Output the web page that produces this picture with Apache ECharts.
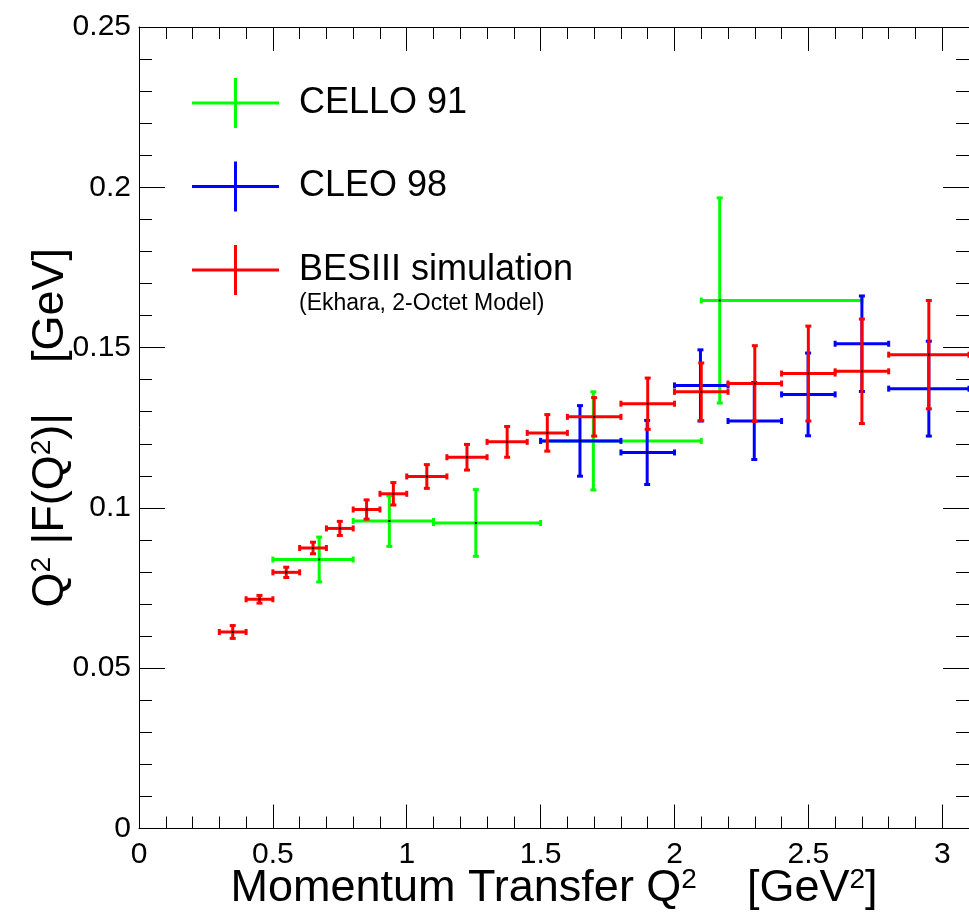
<!DOCTYPE html>
<html>
<head>
<meta charset="utf-8">
<script src="https://cdn.jsdelivr.net/npm/echarts@6/dist/echarts.min.js"></script>
<style>
  html, body { margin: 0; padding: 0; background: #fff; }
  #chart { width: 969px; height: 917px; }
</style>
</head>
<body>
<div id="chart"></div>
<script>
// BESIII simulation (Ekhara, 2-Octet Model)
var besX = [0.35, 0.45, 0.55, 0.65, 0.75, 0.85, 0.95, 1.075, 1.225, 1.375, 1.525, 1.7, 1.9, 2.1, 2.3, 2.5, 2.7, 2.95];
var besXerr = [0.05, 0.05, 0.05, 0.05, 0.05, 0.05, 0.05, 0.075, 0.075, 0.075, 0.075, 0.1, 0.1, 0.1, 0.1, 0.1, 0.1, 0.15];
var besY = [0.0613, 0.0715, 0.0799, 0.0875, 0.0936, 0.0995, 0.1044, 0.1098, 0.1158, 0.1206, 0.1234, 0.1284, 0.1325, 0.1362, 0.1388, 0.1419, 0.1426, 0.1478];
var besYerr = [0.002, 0.0012, 0.0016, 0.0018, 0.0022, 0.003, 0.0035, 0.0037, 0.004, 0.0048, 0.0057, 0.006, 0.008, 0.009, 0.0118, 0.0148, 0.0163, 0.0169];

// CLEO 98
var cleoX = [1.647, 1.898, 2.097, 2.298, 2.499, 2.7, 2.95];
var cleoXlo = [1.5, 1.8, 2.0, 2.2, 2.4, 2.6, 2.8];
var cleoXhi = [1.8, 2.0, 2.2, 2.4, 2.6, 2.8, 3.1];
var cleoY = [0.1209, 0.1173, 0.1382, 0.1271, 0.1354, 0.1512, 0.1372];
var cleoYerr = [0.011, 0.010, 0.0111, 0.012, 0.0129, 0.0149, 0.0148];

// CELLO 91
var celloX = [0.673, 0.935, 1.258, 1.697, 2.169];
var celloXlo = [0.5, 0.8, 1.1, 1.5, 2.1];
var celloXhi = [0.8, 1.1, 1.5, 2.1, 2.7];
var celloY = [0.0839, 0.0959, 0.0953, 0.1209, 0.1647];
var celloYerr = [0.007, 0.0079, 0.0104, 0.0153, 0.032];

var font = "'Liberation Sans', Arial, sans-serif";

function rows(x, y, xlo, xhi, yerr) {
  return x.map(function (v, i) {
    return [v, y[i], xlo[i], xhi[i], y[i] - yerr[i], y[i] + yerr[i]];
  });
}

function errorBars(color) {
  return function (params, api) {
    var c = api.coord([api.value(0), api.value(1)]);
    var l = api.coord([api.value(2), api.value(1)]);
    var r = api.coord([api.value(3), api.value(1)]);
    var b = api.coord([api.value(0), api.value(4)]);
    var t = api.coord([api.value(0), api.value(5)]);
    var st = { stroke: color, lineWidth: 3 };
    var cap = 3;
    function seg(x1, y1, x2, y2) {
      return { type: 'line', shape: { x1: x1, y1: y1, x2: x2, y2: y2 }, style: st };
    }
    return {
      type: 'group',
      children: [
        seg(l[0], c[1], r[0], c[1]),
        seg(c[0], t[1], c[0], b[1]),
        seg(l[0], c[1] - cap, l[0], c[1] + cap),
        seg(r[0], c[1] - cap, r[0], c[1] + cap),
        seg(c[0] - cap, t[1], c[0] + cap, t[1]),
        seg(c[0] - cap, b[1], c[0] + cap, b[1]),
        { type: 'rect', shape: { x: c[0] - 1, y: c[1] - 1, width: 2, height: 2 }, style: { fill: '#000' } }
      ]
    };
  };
}

var crossIcon = 'path://M0,23.5L87,23.5L87,26.5L0,26.5Z M42,0L45,0L45,50L42,50Z';

// frame axis: black line, inside ticks, no grid lines
function frameAxis(extra, tickLen) {
  var base = {
    type: 'value',
    axisLine: { show: true, onZero: false, lineStyle: { color: '#000', width: 1 } },
    splitLine: { show: false },
    axisTick: { inside: true, length: tickLen, lineStyle: { color: '#000' } },
    minorTick: { show: true, splitNumber: 5, length: tickLen / 2, lineStyle: { color: '#000' } }
  };
  return Object.assign(base, extra);
}

var titleRich = {
  t: { fontSize: 45, color: '#000', fontFamily: font },
  s: { fontSize: 28, color: '#000', fontFamily: font, verticalAlign: 'top' }
};

var chart = echarts.init(document.getElementById('chart'));
chart.setOption({
  animation: false,
  backgroundColor: '#fff',
  grid: { left: 139, right: 0, top: 27, bottom: 88.5, outerBoundsMode: 'none', containLabel: false },
  legend: {
    orient: 'vertical',
    left: 192,
    top: 78,
    padding: 0,
    itemWidth: 87,
    itemHeight: 50,
    itemGap: 33.5,
    textStyle: { fontSize: 36, color: '#000', fontFamily: font, padding: [0, 0, 0, 15] },
    data: [
      { name: 'CELLO 91', icon: crossIcon },
      { name: 'CLEO 98', icon: crossIcon },
      { name: 'BESIII simulation', icon: crossIcon }
    ]
  },
  graphic: [{
    type: 'text',
    left: 299,
    top: 292,
    style: { text: '(Ekhara, 2-Octet Model)', fontSize: 23, fill: '#000', fontFamily: font }
  }],
  xAxis: [
    frameAxis({
      min: 0, max: 3.1, interval: 0.5,
      axisLabel: { fontSize: 30, color: '#000', fontFamily: font, margin: 11, showMaxLabel: false },
      name: '{t|Momentum Transfer Q}{s|2}{t|    [GeV}{s|2}{t|]}',
      nameLocation: 'middle',
      nameMoveOverlap: false,
      nameGap: 38,
      nameTextStyle: { rich: titleRich }
    }, 24),
    frameAxis({
      position: 'top',
      min: 0, max: 3.1, interval: 0.5,
      axisLabel: { show: false }
    }, 24)
  ],
  yAxis: [
    frameAxis({
      min: 0, max: 0.25, interval: 0.05,
      axisLabel: { fontSize: 30, color: '#000', fontFamily: font, margin: 8 },
      name: '{t|Q}{s|2}{t| |F(Q}{s|2}{t|)|    [GeV]}',
      nameLocation: 'middle',
      nameMoveOverlap: false,
      nameGap: 66,
      nameTextStyle: { rich: titleRich }
    }, 26),
    frameAxis({
      position: 'right',
      min: 0, max: 0.25, interval: 0.05,
      axisLabel: { show: false }
    }, 26)
  ],
  series: [
    {
      name: 'CELLO 91',
      type: 'custom',
      itemStyle: { color: '#00ff00' },
      renderItem: errorBars('#00ff00'),
      encode: { x: 0, y: 1 },
      data: rows(celloX, celloY, celloXlo, celloXhi, celloYerr)
    },
    {
      name: 'CLEO 98',
      type: 'custom',
      itemStyle: { color: '#0000ff' },
      renderItem: errorBars('#0000ff'),
      encode: { x: 0, y: 1 },
      data: rows(cleoX, cleoY, cleoXlo, cleoXhi, cleoYerr)
    },
    {
      name: 'BESIII simulation',
      type: 'custom',
      itemStyle: { color: '#ff0000' },
      renderItem: errorBars('#ff0000'),
      encode: { x: 0, y: 1 },
      data: rows(besX, besY,
        besX.map(function (v, i) { return v - besXerr[i]; }),
        besX.map(function (v, i) { return v + besXerr[i]; }),
        besYerr)
    }
  ]
});
</script>
</body>
</html>
